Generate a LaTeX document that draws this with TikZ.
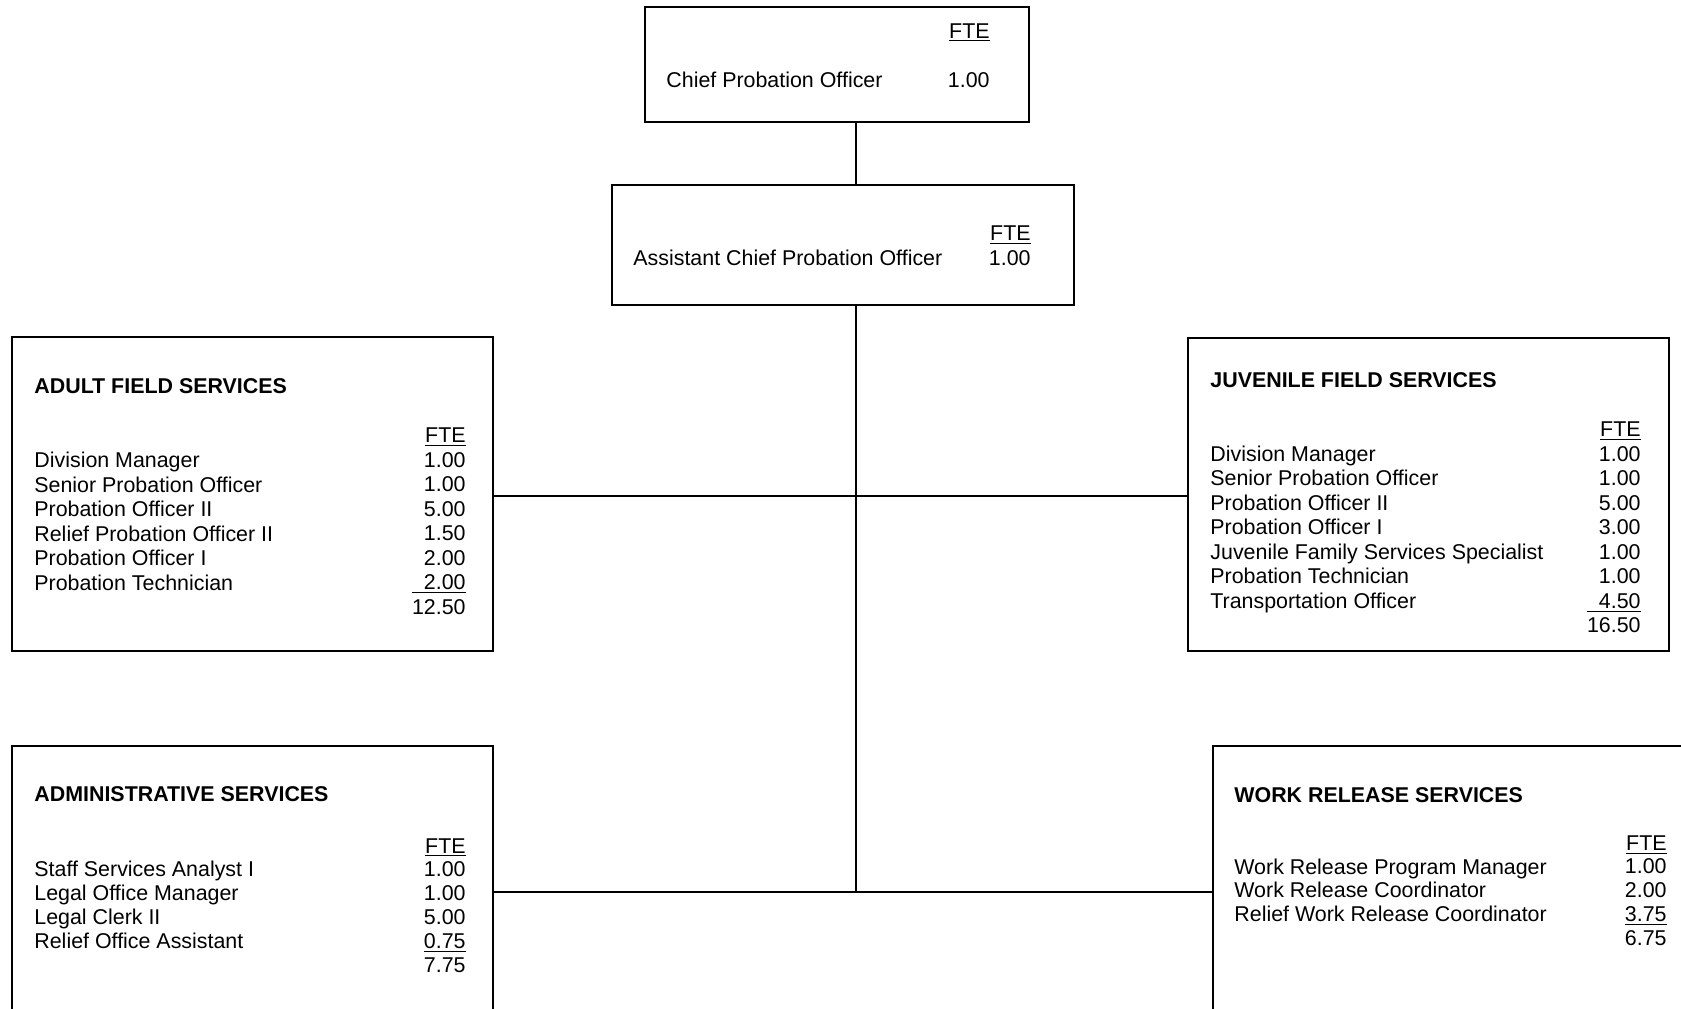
\documentclass[tikz,border=0pt]{standalone}
\usepackage{fontspec}
\setmainfont{Liberation Sans}
\newcommand{\fsz}{\fontsize{10.7}{12.25}\selectfont}
\begin{document}
\begin{tikzpicture}[x=0.5pt, y=-0.5pt,
  every node/.style={inner sep=0pt, font=\fsz},
  orgbox/.style={draw, line width=1pt},
  head/.style={anchor=base west, font=\bfseries\fsz},
  rows/.style={anchor=base west, align=left},
  vals/.style={anchor=base east, align=right}]
  \useasboundingbox (0,0) rectangle (1681,1008);
  \clip (0,0) rectangle (1681,1008);
  % boxes
  \node[orgbox, minimum width=192pt, minimum height=57.5pt] (chief) at (837,64.5) {};
  \node[orgbox, minimum width=231pt, minimum height=60pt] (asst) at (843,245) {};
  \node[orgbox, minimum width=240.5pt, minimum height=157pt] (adult) at (252.5,494) {};
  \node[orgbox, minimum width=240.5pt, minimum height=156.5pt] (juv) at (1428.5,494.5) {};
  \node[orgbox, minimum width=240.5pt, minimum height=150pt] (admin) at (252.5,896) {};
  \node[orgbox, minimum width=240.5pt, minimum height=150pt] (work) at (1453.5,896) {};
  % connectors
  \coordinate (midjoin) at (856,496);
  \coordinate (lowjoin) at (856,892);
  \draw[line width=1pt] (chief.south -| lowjoin) -- (asst.north -| lowjoin);
  \draw[line width=1pt] (asst.south -| lowjoin) -- (lowjoin);
  \draw[line width=1pt] (adult.east |- midjoin) -- (juv.west |- midjoin);
  \draw[line width=1pt] (admin.east |- lowjoin) -- (work.west |- lowjoin);
  % chief (multi-line nodes sit on their last line)
  \node[rows] (chieflbl) at (666,87) {Chief Probation Officer};
  \node[vals] (chieffte) at (990,38) {\underline{FTE}};
  \node[vals] (chiefval) at (990,87) {1.00};
  % assistant chief
  \node[rows] (asstlbl) at (633,265) {Assistant Chief Probation Officer};
  \node[vals] (asstval) at (1031,265) {\underline{FTE}\\1.00};
  % adult field services
  \node[head] (adulthead) at (34,393) {ADULT FIELD SERVICES};
  \node[rows] (adultlbl) at (34,590) {Division Manager\\Senior Probation Officer\\Probation Officer II\\
    Relief Probation Officer II\\Probation Officer I\\Probation Technician};
  \node[vals] (adultval) at (466,614) {\underline{FTE}\\1.00\\1.00\\5.00\\1.50\\2.00\\
    \underline{\hphantom{1}2.00}\\12.50};
  % juvenile field services
  \node[head] (juvhead) at (1210,387) {JUVENILE FIELD SERVICES};
  \node[rows] (juvlbl) at (1210,608) {Division Manager\\Senior Probation Officer\\Probation Officer II\\
    Probation Officer I\\Juvenile Family Services Specialist\\Probation Technician\\Transportation Officer};
  \node[vals] (juvval) at (1641,632.5) {\underline{FTE}\\1.00\\1.00\\5.00\\3.00\\1.00\\1.00\\
    \underline{\hphantom{1}4.50}\\16.50};
  % administrative services
  \node[head] (adminhead) at (34,801) {ADMINISTRATIVE SERVICES};
  \node[rows, font=\fontsize{10.7}{11.9}\selectfont] (adminlbl) at (34,948) {Staff Services Analyst I\\
    Legal Office Manager\\Legal Clerk II\\Relief Office Assistant};
  \node[vals, font=\fontsize{10.7}{11.9}\selectfont] (adminval) at (466,972) {\underline{FTE}\\1.00\\1.00\\5.00\\
    \underline{0.75}\\7.75};
  % work release services
  \node[head] (workhead) at (1234,802) {WORK RELEASE SERVICES};
  \node[rows, font=\fontsize{10.7}{11.85}\selectfont] (worklbl) at (1234,921.5) {Work Release Program Manager\\
    Work Release Coordinator\\Relief Work Release Coordinator};
  \node[vals, font=\fontsize{10.7}{11.85}\selectfont] (workval) at (1667,945) {\underline{FTE}\\1.00\\2.00\\
    \underline{3.75}\\6.75};
\end{tikzpicture}
\end{document}
